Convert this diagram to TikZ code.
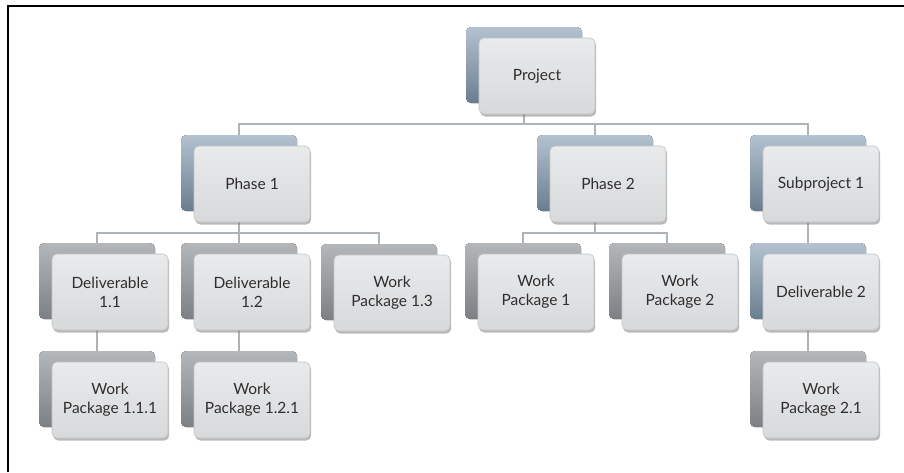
\documentclass[tikz,border=0pt]{standalone}
\usepackage{fontspec}
\setmainfont{Lato}
\usetikzlibrary{shadows,backgrounds}
\definecolor{bluetop}{HTML}{B4C2CF}
\definecolor{bluemid}{HTML}{8295A8}
\definecolor{bluebot}{HTML}{6A7D90}
\definecolor{graytop}{HTML}{B4B7BA}
\definecolor{graymid}{HTML}{8E9296}
\definecolor{graybot}{HTML}{7C8084}
\definecolor{fronttop}{HTML}{E9EAEC}
\definecolor{frontbot}{HTML}{D8D9DB}
\definecolor{frontedge}{HTML}{C2C4C6}
\definecolor{linecol}{HTML}{AEB3B8}
\definecolor{textcol}{HTML}{2E2E2E}
\begin{document}
\begin{tikzpicture}[x=1pt,y=-1pt,
  box/.style={rectangle, rounded corners=5pt, minimum width=116pt, minimum height=76pt,
    inner sep=2pt, align=center, font=\fontsize{15.5}{19}\selectfont, text=textcol,
    top color=fronttop, bottom color=frontbot, draw=frontedge, line width=0.6pt},
  frontshadow/.style={drop shadow={shadow xshift=1.2pt, shadow yshift=-2.5pt, fill=black!50, opacity=0.55}},
  bluebox/.style={box,
    copy shadow={shadow xshift=-13pt, shadow yshift=11pt, top color=bluetop, middle color=bluemid, bottom color=bluebot, draw=none, opacity=1},
    frontshadow},
  graybox/.style={box,
    copy shadow={shadow xshift=-13pt, shadow yshift=11pt, top color=graytop, middle color=graymid, bottom color=graybot, draw=none, opacity=1},
    frontshadow},
  conn/.style={draw=linecol, line width=1.8pt},
  frame/.style={draw=black, line width=2pt}
]
\useasboundingbox (0,0) rectangle (904,472);
\draw[frame] (8,472) -- (8,6) -- (904,6);

\node[bluebox] (proj) at (537,76) {Project};
\node[bluebox] (ph1) at (252,184) {Phase 1};
\node[bluebox] (ph2) at (608,184) {Phase 2};
\node[bluebox] (sub) at (821,184) {Subproject 1};
\node[graybox] (d11) at (110,292) {Deliverable\\1.1};
\node[graybox] (d12) at (252,292) {Deliverable\\1.2};
\node[graybox] (wp13) at (392,293) {Work\\Package 1.3};
\node[graybox] (wp1) at (536,292) {Work\\Package 1};
\node[graybox] (wp2) at (680,292) {Work\\Package 2};
\node[bluebox] (d2) at (821,292) {Deliverable 2};
\node[graybox] (wp111) at (110,400) {Work\\Package 1.1.1};
\node[graybox] (wp121) at (252,400) {Work\\Package 1.2.1};
\node[graybox] (wp21) at (821,400) {Work\\Package 2.1};

\begin{scope}[on background layer]
  \foreach \p/\c in {proj/ph1, proj/ph2, proj/sub}
    \draw[conn] ([xshift=-13pt]\p.south) -- ++(0,10) -| ([xshift=-13pt,yshift=11pt]\c.north);
  \foreach \p/\c in {ph1/d11, ph1/d12, ph1/wp13, ph2/wp1, ph2/wp2, sub/d2, d11/wp111, d12/wp121, d2/wp21}
    \draw[conn] ([xshift=-13pt]\p.south) -- ++(0,11) -| ([xshift=-13pt,yshift=11pt]\c.north);
\end{scope}
\end{tikzpicture}
\end{document}
